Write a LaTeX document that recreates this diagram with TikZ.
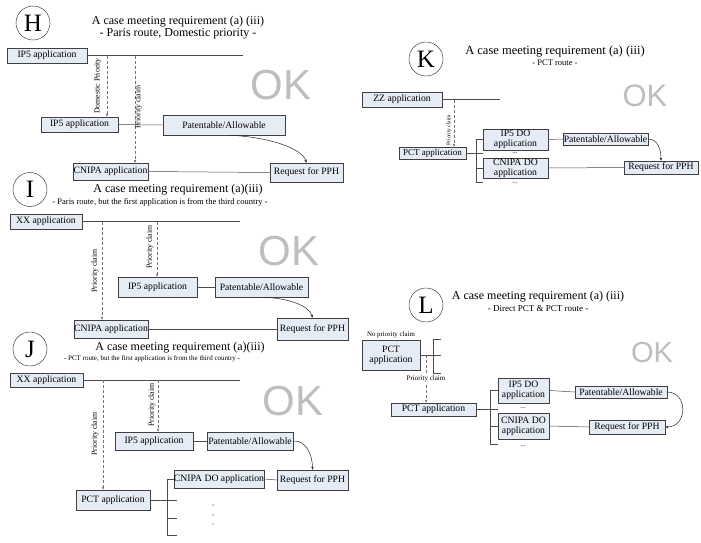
\documentclass[tikz,border=0pt]{standalone}
\usepackage{fontspec}
\setmainfont{Liberation Serif}
\newfontfamily\oksans{Liberation Sans}
\usetikzlibrary{arrows.meta,calc}
\definecolor{boxfill}{HTML}{E6ECF6}
\definecolor{okgray}{HTML}{BEBEBE}
\newcommand\myfs[2]{\fontsize{#1}{#2}\selectfont}
\begin{document}
\begin{tikzpicture}[x=1pt,y=-1pt,
 appbox/.style={draw=black!75, fill=boxfill, line width=0.5pt, inner sep=0pt, align=center, font={\myfs{9.7}{10}}},
 ln/.style={draw=black!70, line width=0.5pt},
 dsh/.style={draw=black!55, line width=0.6pt, dash pattern=on 3pt off 2pt, -{Stealth[length=3.2pt,width=2.6pt]}},
 arr/.style={draw=black!85, line width=0.5pt, -{Stealth[length=3.2pt,width=2.6pt]}},
 circ/.style={draw=black!75, line width=0.5pt, circle, minimum size=34pt, inner sep=0pt, font={\myfs{25}{25}}},
 ttl/.style={inner sep=0pt, font={\myfs{12}{12}}},
 lbl/.style={inner sep=0pt, font={\myfs{7.8}{7.8}}},
 dots/.style={inner sep=0pt, font={\myfs{7}{7}}},
 ok/.style={text=okgray, inner sep=0pt},
]
\useasboundingbox (0,0) rectangle (701,542);

% ---------------- H ----------------
\node[circ] (hC) at (33,23) {H};
\node[ttl] (hT) at (178,22) {A case meeting requirement (a) (iii)};
\node[ttl] (hS) at (178,34) {- Paris route, Domestic priority -};
\node[appbox, minimum width=80pt, minimum height=15pt] (hA) at (47,55.5) {IP5 application};
\coordinate (hE) at (243,55.5);
\draw[ln] (hA.east) -- (hE);
\node[appbox, minimum width=77pt, minimum height=15pt] (hB) at (79.5,124.5) {IP5 application};
\node[appbox, minimum width=75pt, minimum height=17pt] (hCN) at (110.5,171.5) {CNIPA application};
\node[appbox, minimum width=122pt, minimum height=20pt] (hP) at (224,125) {Patentable/Allowable};
\node[appbox, minimum width=73pt, minimum height=19pt] (hR) at (306.5,172.5) {Request for PPH};
\coordinate (hD1) at (107,55.5);
\coordinate (hD2) at (135,55.5);
\draw[dsh] (hD1) -- (hD1 |- hB.north);
\draw[dsh] (hD2) -- (hD2 |- hCN.north);
\node[lbl, rotate=90] (hL1) at (98,86) {Domestic Priority};
\node[lbl, rotate=90] (hL2) at (138.5,107) {Priority claim};
\draw[ln] (hB.east) -- (hP.west);
\draw[ln] (hCN.east) -- (hR.west);
\draw[arr] ($(hP.south)+(6,0)$) .. controls (268,137) and (302,148) .. (hR.north);
\node[ok, font={\oksans\myfs{42}{42}}] (hOK) at (281,85) {OK};

% ---------------- I ----------------
\node[circ] (iC) at (30,189.5) {I};
\node[ttl] (iT) at (178,190) {A case meeting requirement (a)(iii)};
\node[inner sep=0pt, font={\myfs{8.5}{8.5}}] (iS) at (160,202) {- Paris route, but the first application is from the third country -};
\node[appbox, minimum width=72pt, minimum height=15pt] (iX) at (46,221.5) {XX application};
\coordinate (iE) at (240,221.5);
\draw[ln] (iX.east) -- (iE);
\node[appbox, minimum width=74pt, minimum height=18pt] (iCN) at (111,329) {CNIPA application};
\node[appbox, minimum width=79pt, minimum height=20pt] (iB) at (157.5,287) {IP5 application};
\node[appbox, minimum width=93pt, minimum height=20pt] (iP) at (261.5,287) {Patentable/Allowable};
\node[appbox, minimum width=71pt, minimum height=22pt] (iR) at (312.5,329) {Request for PPH};
\coordinate (iD1) at (102,221.5);
\coordinate (iD2) at (157,221.5);
\draw[dsh] (iD1) -- (iD1 |- iCN.north);
\draw[dsh] (iD2) -- (iD2 |- iB.north);
\node[lbl, rotate=90] (iL1) at (95,271) {Priority claim};
\node[lbl, rotate=90] (iL2) at (150,247) {Priority claim};
\draw[ln] (iB.east) -- (iP.west);
\draw[ln] (iCN.east) -- (iR.west);
\draw[arr] ($(iP.south)+(1.5,0)$) .. controls (287,298) and (309,305) .. (iR.north);
\node[ok, font={\oksans\myfs{42}{42}}] (iOK) at (289,251) {OK};

% ---------------- J ----------------
\node[circ] (jC) at (30,349) {J};
\node[ttl] (jT) at (180,348) {A case meeting requirement (a)(iii)};
\node[inner sep=0pt, font={\myfs{7}{7}}] (jS) at (152,359) {- PCT route, but the first application is from the third country -};
\node[appbox, minimum width=73pt, minimum height=14pt] (jX) at (46.5,380) {XX application};
\coordinate (jE) at (240,380);
\draw[ln] (jX.east) -- (jE);
\node[appbox, minimum width=74pt, minimum height=20pt] (jPCT) at (113,500) {PCT application};
\node[appbox, minimum width=78pt, minimum height=18pt] (jB) at (154,441) {IP5 application};
\node[appbox, minimum width=86pt, minimum height=18pt] (jP) at (250,441) {Patentable/Allowable};
\node[appbox, minimum width=71pt, minimum height=20pt] (jR) at (312.5,480) {Request for PPH};
\node[appbox, minimum width=86pt, minimum height=18pt] (jCN) at (219,479) {CNIPA DO application};
\coordinate (jD1) at (103,380);
\coordinate (jD2) at (158,380);
\draw[dsh] (jD1) -- (jD1 |- jPCT.north);
\draw[dsh] (jD2) -- (jD2 |- jB.north);
\node[lbl, rotate=90] (jL1) at (95,434) {Priority claim};
\node[lbl, rotate=90] (jL2) at (152,405) {Priority claim};
\draw[ln] (jB.east) -- (jP.west);
\draw[ln] (jCN.east) -- (jR.west);
\draw[arr] (jP.east) .. controls (306,440) and (312.5,455) .. (jR.north);
\coordinate (jK1) at (177,500);
\draw[ln] (jPCT.east) -- (jK1);
\draw[ln] (jCN.west) -| (167,535) -- (177,535);
\draw[ln] (167,518) -- (177,518);
\fill[black!80] (213,505) circle (0.7pt) (213,515) circle (0.7pt) (213,524) circle (0.7pt);
\node[ok, font={\oksans\myfs{42}{42}}] (jOK) at (293,401) {OK};

% ---------------- K ----------------
\node[circ] (kC) at (426,59) {K};
\node[inner sep=0pt, font={\myfs{12.5}{12.5}}] (kT) at (555,52) {A case meeting requirement (a) (iii)};
\node[inner sep=0pt, font={\myfs{8.5}{8.5}}] (kS) at (555,63) {- PCT route -};
\node[appbox, minimum width=80pt, minimum height=15pt] (kZ) at (402,99.5) {ZZ application};
\coordinate (kE) at (500,99.5);
\draw[ln] (kZ.east) -- (kE);
\node[appbox, minimum width=67pt, minimum height=12pt, font={\myfs{9}{9}}] (kPCT) at (432.5,153) {PCT application};
\coordinate (kD) at (454,99.5);
\draw[dsh] (kD) -- (kD |- kPCT.north);
\node[inner sep=0pt, rotate=90, font={\myfs{5.5}{5.5}}] (kL) at (449,130) {Priority claim};
\node[appbox, minimum width=65pt, minimum height=21pt] (kIP) at (515.5,139.5) {IP5 DO\\application};
\node[appbox, minimum width=65pt, minimum height=20pt] (kCN) at (515.5,168) {CNIPA DO\\application};
\node[dots] (kdot1) at (515,153.5) {...};
\node[dots] (kdot2) at (515,183) {...};
\coordinate (kK1) at (483,153);
\draw[ln] (kPCT.east) -- (kK1);
\draw[ln] (kIP.west) -| (476,182) -- (483,182);
\draw[ln] (476,168) -- (kCN.west);
\node[appbox, minimum width=85pt, minimum height=12pt] (kP) at (605.5,139) {Patentable/Allowable};
\node[appbox, minimum width=74pt, minimum height=13pt] (kR) at (661,167.5) {Request for PPH};
\draw[ln] (kIP.east) -- (kP.west);
\draw[ln] (kCN.east) -- (kR.west);
\draw[arr] (kP.east) .. controls (658,139) and (661,150) .. (kR.north);
\node[ok, font={\oksans\myfs{31}{31}}] (kOK) at (645,96) {OK};

% ---------------- L ----------------
\node[circ] (lC) at (426,305) {L};
\node[ttl] (lT) at (538,297) {A case meeting requirement (a) (iii)};
\node[inner sep=0pt, font={\myfs{9}{9}}] (lS) at (538,309) {- Direct PCT \& PCT route -};
\node[inner sep=0pt, font={\myfs{6.9}{6.9}}] (lN) at (391,335) {No priority claim};
\node[appbox, minimum width=58pt, minimum height=30pt] (lA) at (391,355) {PCT\\application};
\coordinate (lK0) at (441,355);
\draw[ln] (lA.east) -- (lK0);
\draw[ln] (441,339) -- (433,339) -- (433,373) -- (441,373);
\node[appbox, minimum width=85pt, minimum height=13pt] (lB) at (433.5,409.5) {PCT application};
\coordinate (lD) at (426,355);
\draw[dsh] (lD) -- (lD |- lB.north);
\node[inner sep=0.6pt, fill=white, font={\myfs{7}{7}}] (lL) at (426,379) {Priority claim};
\node[appbox, minimum width=51pt, minimum height=25pt] (lIP) at (523.5,390.5) {IP5 DO\\application};
\node[appbox, minimum width=51pt, minimum height=26pt] (lCN) at (523.5,426) {CNIPA DO\\application};
\node[dots] (ldot1) at (523,408.5) {...};
\node[dots] (ldot2) at (523,446) {...};
\coordinate (lK1) at (498,409.5);
\draw[ln] (lB.east) -- (lK1);
\draw[ln] (lIP.west) -| (490,444) -- (498,444);
\draw[ln] (490,426) -- (lCN.west);
\node[appbox, minimum width=92pt, minimum height=12pt] (lP) at (621,392) {Patentable/Allowable};
\node[appbox, minimum width=76pt, minimum height=14pt] (lR) at (627,427) {Request for PPH};
\draw[ln] (lIP.east) -- (lP.west);
\draw[ln] (lCN.east) -- (lR.west);
\draw[arr] (lP.east) .. controls (688,392) and (688,427) .. (lR.east);
\node[ok, font={\oksans\myfs{29}{29}}] (lOK) at (652,353) {OK};
\end{tikzpicture}
\end{document}
